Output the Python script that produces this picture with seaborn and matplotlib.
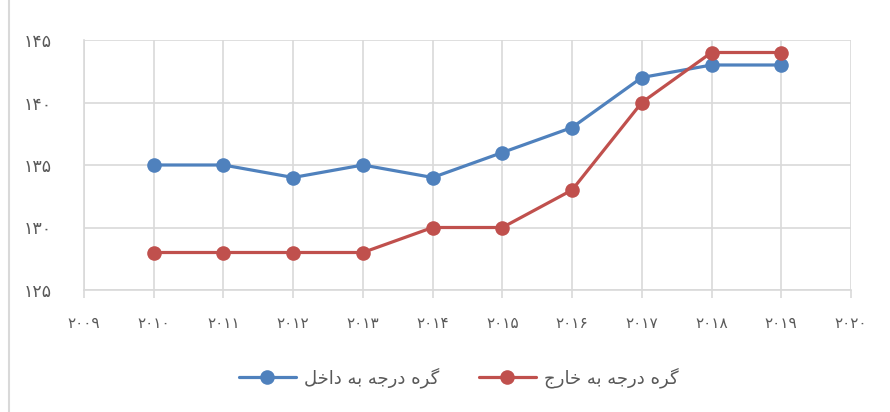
import matplotlib
matplotlib.use("Agg")
import matplotlib.pyplot as plt
import seaborn as sns
from matplotlib.lines import Line2D

years = [2010, 2011, 2012, 2013, 2014, 2015, 2016, 2017, 2018, 2019]
in_degree = [135, 135, 134, 135, 134, 136, 138, 142, 143, 143]
out_degree = [128, 128, 128, 128, 130, 130, 133, 140, 144, 144]
label_in = "گره درجه به داخل"
label_out = "گره درجه به خارج"
x_ticks = list(range(2009, 2021))
y_ticks = [125, 130, 135, 140, 145]

BLUE = "#4F81BD"
RED = "#C0504D"
GRID = "#d9d9d9"
TEXT = "#595959"

# presentation forms: isolated, final, initial, medial
FORMS = {
    "ا": ("\uFE8D", "\uFE8E", None, None),
    "ب": ("\uFE8F", "\uFE90", "\uFE91", "\uFE92"),
    "ج": ("\uFE9D", "\uFE9E", "\uFE9F", "\uFEA0"),
    "خ": ("\uFEA5", "\uFEA6", "\uFEA7", "\uFEA8"),
    "د": ("\uFEA9", "\uFEAA", None, None),
    "ر": ("\uFEAD", "\uFEAE", None, None),
    "ل": ("\uFEDD", "\uFEDE", "\uFEDF", "\uFEE0"),
    "ه": ("\uFEE9", "\uFEEA", "\uFEEB", "\uFEEC"),
    "گ": ("\uFB92", "\uFB93", "\uFB94", "\uFB95"),
}


def shape(text):
    """Crude Persian shaping + visual reordering (matplotlib has no bidi)."""
    out = []
    for i, ch in enumerate(text):
        if ch not in FORMS:
            out.append(ch)
            continue
        prev = text[i - 1] if i > 0 else None
        nxt = text[i + 1] if i + 1 < len(text) else None
        join_prev = prev in FORMS and FORMS[prev][2] is not None
        join_next = nxt in FORMS and FORMS[ch][2] is not None
        iso, fin, ini, med = FORMS[ch]
        if join_prev and join_next:
            out.append(med)
        elif join_prev:
            out.append(fin)
        elif join_next:
            out.append(ini)
        else:
            out.append(iso)
    return "".join(out)[::-1]


def fa_digits(n):
    return str(n).translate(str.maketrans("0123456789", "۰۱۲۳۴۵۶۷۸۹"))


sns.set_theme(style="white")
plt.rcParams["font.family"] = ["DejaVu Sans"]

fig = plt.figure(figsize=(8.9, 4.12), dpi=100)
ax = fig.add_axes([84 / 890, 1 - 290 / 412, (851 - 84) / 890, 250 / 412])

sns.lineplot(x=years, y=in_degree, ax=ax, color=BLUE, linewidth=2.3,
             marker="o", markersize=10.5, markeredgewidth=0, label=shape(label_in))
sns.lineplot(x=years, y=out_degree, ax=ax, color=RED, linewidth=2.3,
             marker="o", markersize=10.5, markeredgewidth=0, label=shape(label_out))

ax.set_xlim(2009, 2020)
ax.set_ylim(125, 145)
ax.set_xticks(x_ticks)
ax.set_xticklabels([fa_digits(v) for v in x_ticks])
ax.set_yticks(y_ticks)
ax.set_yticklabels([fa_digits(v) for v in y_ticks])
ax.grid(True, color=GRID, linewidth=1.2)
ax.set_axisbelow(True)
for side in ["top", "right"]:
    ax.spines[side].set_visible(False)
for side in ["left", "bottom"]:
    ax.spines[side].set_color(GRID)
    ax.spines[side].set_linewidth(1.2)
ax.tick_params(axis="x", bottom=True, length=6, width=1.2, color=GRID,
               labelsize=11, labelcolor=TEXT, pad=13)
ax.tick_params(axis="y", left=False, labelsize=12.5, labelcolor=TEXT, pad=17)

ax.legend(loc="center", bbox_to_anchor=(0.515, 0.083), bbox_transform=fig.transFigure,
          ncol=2, frameon=False, fontsize=13, handlelength=3.2, handletextpad=0.4,
          columnspacing=2.2, labelcolor=TEXT)

# chart-area border remnant on the left
fig.add_artist(Line2D([9 / 890, 9 / 890], [0, 1], transform=fig.transFigure,
                      color=GRID, linewidth=1.5))

fig.savefig("out.png", dpi=100)
